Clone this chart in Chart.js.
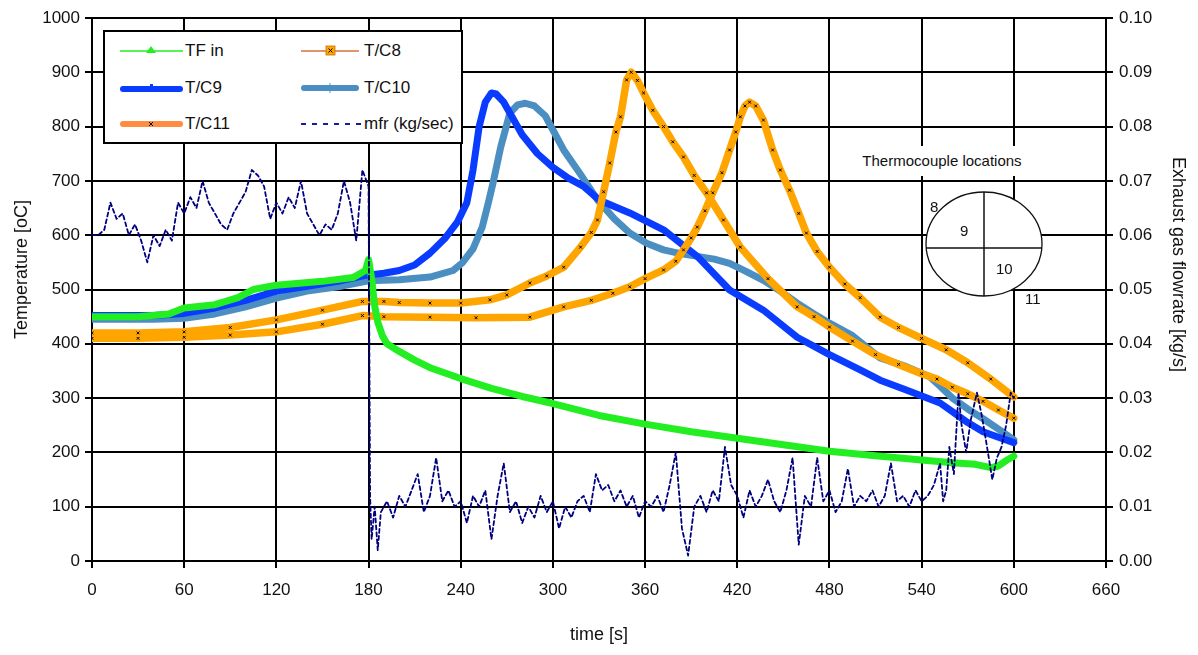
<!DOCTYPE html>
<html>
<head>
<meta charset="utf-8">
<script src="https://cdn.jsdelivr.net/npm/chart.js@4.4.1/dist/chart.umd.min.js"></script>
<style>
	body { margin: 0; background: #fff; }
	#wrap { position: relative; width: 1198px; height: 655px; font-family: "Liberation Sans", Arial, sans-serif; color: #111; }
	#legend { position: absolute; left: 103px; top: 30px; width: 356px; height: 110px; border: 2px solid #000; background: #fff; }
	.item { position: absolute; height: 20px; font-size: 17px; line-height: 20px; white-space: nowrap; }
	.item svg { position: absolute; left: 0; top: 0; }
	.item span { position: absolute; top: 0; }
	#tcTitle { position: absolute; left: 856px; top: 146px; width: 172px; height: 30px; background: #fff; font-size: 15px; line-height: 30px; text-align: center; }
	.num { position: absolute; font-size: 15px; line-height: 16px; }
	#diagram { position: absolute; left: 0; top: 0; }
</style>
</head>
<body>
<div id="wrap">
	<canvas id="chart" width="1198" height="655"></canvas>
	<div id="legend"></div>
	<div id="tcTitle">Thermocouple locations</div>
	<svg id="diagram" width="1198" height="655">
		<ellipse cx="984" cy="244" rx="58" ry="52" fill="#fff" stroke="#111" stroke-width="1.3"/>
		<line x1="984" y1="192" x2="984" y2="296" stroke="#111" stroke-width="1.5"/>
		<line x1="926" y1="248" x2="1042" y2="248" stroke="#111" stroke-width="1.5"/>
	</svg>
	<div class="num" style="left:930px; top:199px;">8</div>
	<div class="num" style="left:960px; top:223px;">9</div>
	<div class="num" style="left:996px; top:261px;">10</div>
	<div class="num" style="left:1025px; top:291px;">11</div>
</div>
<script>
// axis ticks
const timeTicks = [0, 60, 120, 180, 240, 300, 360, 420, 480, 540, 600, 660]
const tempTicks = [0, 100, 200, 300, 400, 500, 600, 700, 800, 900, 1000]
const rateTicks = [0, 0.01, 0.02, 0.03, 0.04, 0.05, 0.06, 0.07, 0.08, 0.09, 0.10]

// TF in
const tfTime = [0, 30, 50, 60, 80, 95, 105, 120, 150, 170, 178, 180, 182, 184, 186, 189, 192, 200, 210, 220, 240, 260, 280, 300, 330, 360, 390, 420, 450, 480, 510, 540, 560, 575, 585, 590, 595, 600]
const tfTemp = [450, 450, 455, 466, 472, 485, 500, 508, 515, 522, 535, 555, 520, 470, 440, 415, 400, 386, 370, 356, 336, 318, 303, 290, 268, 252, 238, 226, 214, 202, 194, 186, 181, 178, 172, 175, 185, 193]

// T/C8
const tc8Time = [0, 30, 60, 90, 120, 150, 176, 190, 200, 220, 240, 259, 270, 285, 296, 307, 318, 325, 329, 333, 337, 341, 344, 348, 351, 355, 359, 365, 372, 378, 385, 392, 400, 411, 422, 440, 459, 470, 480, 495, 510, 525, 540, 550, 560, 570, 580, 590, 600]
const tc8Temp = [420, 420, 422, 430, 444, 462, 478, 478, 476, 475, 475, 481, 490, 512, 525, 541, 578, 605, 628, 680, 733, 790, 818, 886, 900, 885, 862, 830, 800, 772, 744, 710, 678, 628, 578, 520, 468, 450, 431, 405, 380, 362, 345, 335, 320, 308, 294, 278, 263]

// T/C9
const tc9Time = [0, 40, 60, 80, 100, 120, 140, 160, 178, 190, 200, 210, 220, 230, 238, 244, 248, 252, 256, 260, 263, 268, 274, 280, 290, 300, 310, 320, 330, 350, 372, 394, 415, 437, 459, 480, 500, 513, 530, 552, 560, 570, 580, 590, 600]
const tc9Temp = [452, 452, 456, 466, 480, 497, 506, 515, 526, 530, 535, 545, 567, 595, 625, 660, 720, 800, 845, 862, 860, 845, 815, 785, 750, 725, 705, 690, 665, 641, 610, 561, 499, 462, 412, 380, 352, 333, 315, 291, 275, 255, 238, 228, 218]

// T/C10
const tc10Time = [0, 40, 60, 80, 100, 120, 140, 160, 180, 200, 220, 235, 241, 248, 254, 258, 261, 266, 272, 277, 282, 288, 295, 307, 318, 329, 340, 350, 361, 372, 383, 394, 405, 415, 426, 437, 448, 459, 470, 480, 495, 513, 530, 545, 552, 560, 570, 580, 590, 600]
const tc10Temp = [445, 445, 447, 455, 468, 484, 497, 505, 516, 518, 523, 535, 549, 575, 615, 660, 696, 762, 825, 840, 843, 838, 820, 757, 712, 665, 630, 604, 585, 573, 566, 561, 556, 548, 533, 517, 497, 475, 455, 438, 415, 374, 358, 340, 322, 300, 280, 262, 243, 223]

// T/C11
const tc11Time = [0, 30, 60, 90, 120, 150, 176, 190, 220, 250, 285, 307, 325, 339, 350, 360, 372, 380, 385, 390, 394, 399, 404, 410, 415, 419, 422, 425, 428, 432, 437, 443, 448, 454, 460, 465, 472, 480, 490, 500, 513, 525, 540, 556, 570, 585, 600]
const tc11Temp = [410, 410, 412, 416, 422, 436, 452, 450, 449, 448, 449, 468, 480, 493, 505, 520, 536, 552, 573, 595, 615, 645, 678, 715, 757, 790, 818, 838, 845, 838, 812, 757, 720, 683, 640, 604, 570, 541, 510, 485, 449, 430, 410, 389, 365, 335, 302]

// mfr (kg/sec), right axis
const mfrTime = [0, 4, 8, 12, 16, 20, 24, 28, 32, 36, 40, 44, 48, 52, 56, 60, 64, 68, 72, 76, 80, 84, 88, 92, 96, 100, 104, 108, 112, 116, 120, 124, 128, 132, 136, 140, 144, 148, 152, 156, 160, 164, 168, 172, 176, 180,
	181, 182, 184, 186, 188, 192, 196, 200, 204, 208, 212, 216, 220, 224, 228, 232, 236, 240, 244, 248, 252, 256, 260, 264, 268, 272, 276, 280, 284, 288, 292, 296, 300,
	304, 308, 312, 316, 320, 324, 328, 332, 336, 340, 344, 348, 352, 356, 360, 364, 368, 372, 376, 380, 384, 388, 392, 396, 400, 404, 408, 412, 416, 420,
	424, 428, 432, 436, 440, 444, 448, 452, 456, 460, 464, 468, 472, 476, 480, 484, 488, 492, 496, 500, 504, 508, 512, 516, 520, 524, 528, 532, 536, 540,
	544, 548, 552, 554, 556, 558, 561, 564, 566, 569, 572, 576, 579, 582, 586, 589, 592, 595, 598, 600]
const mfrRate = [0.060, 0.060, 0.061, 0.066, 0.063, 0.064, 0.060, 0.062, 0.059, 0.055, 0.060, 0.058, 0.061, 0.059, 0.066, 0.064, 0.067, 0.065, 0.070, 0.066, 0.064, 0.062, 0.061, 0.064, 0.066, 0.068, 0.072, 0.071, 0.069, 0.063, 0.066, 0.064, 0.067, 0.065, 0.070, 0.064, 0.062, 0.060, 0.062, 0.061, 0.064, 0.070, 0.066, 0.059, 0.072, 0.069,
	0.012, 0.004, 0.010, 0.002, 0.009, 0.011, 0.008, 0.012, 0.010, 0.013, 0.016, 0.009, 0.012, 0.019, 0.011, 0.013, 0.010, 0.011, 0.007, 0.012, 0.010, 0.013, 0.004, 0.012, 0.018, 0.009, 0.011, 0.007, 0.010, 0.008, 0.012, 0.009, 0.011,
	0.006, 0.010, 0.008, 0.011, 0.012, 0.009, 0.016, 0.013, 0.014, 0.011, 0.013, 0.010, 0.012, 0.008, 0.011, 0.010, 0.012, 0.009, 0.014, 0.020, 0.006, 0.001, 0.010, 0.012, 0.009, 0.013, 0.011, 0.021, 0.014, 0.012,
	0.008, 0.013, 0.010, 0.012, 0.015, 0.011, 0.009, 0.013, 0.019, 0.003, 0.012, 0.010, 0.019, 0.011, 0.013, 0.009, 0.011, 0.017, 0.010, 0.012, 0.011, 0.013, 0.010, 0.012, 0.018, 0.011, 0.012, 0.010, 0.013, 0.011,
	0.012, 0.014, 0.018, 0.011, 0.013, 0.021, 0.016, 0.031, 0.025, 0.020, 0.026, 0.031, 0.027, 0.022, 0.015, 0.019, 0.021, 0.025, 0.031, 0.030]

const legendItems = [
	{label: 'TF in', row: 0, col: 0, sample: '<line x1="0" y1="10" x2="63" y2="10" stroke="#22ee22" stroke-width="1.5"/><polygon points="31,5 36,12 26,12" fill="#22ee22"/>'},
	{label: 'T/C8', row: 0, col: 1, sample: '<line x1="0" y1="10" x2="58" y2="10" stroke="#d9703a" stroke-width="1.5"/><rect x="25" y="5" width="9" height="9" fill="#ffa500" stroke="#c07000" stroke-width="0.8"/><path d="M27.5 7.5 L31.5 11.5 M31.5 7.5 L27.5 11.5" stroke="#000" stroke-width="1"/>'},
	{label: 'T/C9', row: 1, col: 0, sample: '<line x1="3" y1="11" x2="60" y2="11" stroke="#0a3cff" stroke-width="6" stroke-linecap="round"/><rect x="30" y="6" width="3" height="4" fill="#0a3cff"/>'},
	{label: 'T/C10', row: 1, col: 1, sample: '<line x1="3" y1="10" x2="55" y2="10" stroke="#4b8fc2" stroke-width="6" stroke-linecap="round"/><line x1="29" y1="5" x2="29" y2="15" stroke="#4b8fc2" stroke-width="1"/>'},
	{label: 'T/C11', row: 2, col: 0, sample: '<line x1="3" y1="10" x2="60" y2="10" stroke="#ff8c40" stroke-width="6" stroke-linecap="round"/><path d="M29 8 L33 12 M33 8 L29 12" stroke="#000" stroke-width="1"/>'},
	{label: 'mfr (kg/sec)', row: 2, col: 1, sample: '<line x1="0" y1="10" x2="60" y2="10" stroke="#1a1a9a" stroke-width="2" stroke-dasharray="5,6"/>'},
]

function buildLegend () {
	var box = document.getElementById('legend')
	legendItems.forEach(function (it) {
		var div = document.createElement('div')
		div.className = 'item'
		div.style.left = (it.col ? 196 : 15) + 'px'
		div.style.top = (9 + it.row * 36.5) + 'px'
		div.innerHTML = '<svg width="64" height="20">' + it.sample + '</svg><span style="left:' + (it.col ? 63 : 65) + 'px">' + it.label + '</span>'
		box.appendChild(div)
	})
}

function pts (xs, ys) {
	return xs.map((x, i) => ({x: x, y: ys[i]}))
}

const tickFont = {family: '"Liberation Sans", Arial, sans-serif', size: 17}
const titleFont = {family: '"Liberation Sans", Arial, sans-serif', size: 18}
const gridColor = '#000'

buildLegend()

new Chart('chart', {
	type: 'line',
	data: {
		datasets: [
			{
				label: 'mfr (kg/sec)', data: pts(mfrTime, mfrRate), yAxisID: 'y2', order: 1,
				borderColor: '#00007f', borderWidth: 1.8, borderDash: [4, 3], pointRadius: 0,
			},
			{
				label: 'TF in', data: pts(tfTime, tfTemp), yAxisID: 'y', order: 2,
				borderColor: '#22ee22', borderWidth: 7, pointRadius: 0,
			},
			{
				label: 'T/C8', data: pts(tc8Time, tc8Temp), yAxisID: 'y', order: 3,
				borderColor: '#ffa500', borderWidth: 7.5, pointRadius: 2, pointStyle: 'crossRot',
				pointBorderColor: '#000', pointBorderWidth: 1,
			},
			{
				label: 'T/C11', data: pts(tc11Time, tc11Temp), yAxisID: 'y', order: 4,
				borderColor: '#ffa500', borderWidth: 7.5, pointRadius: 2, pointStyle: 'crossRot',
				pointBorderColor: '#000', pointBorderWidth: 1,
			},
			{
				label: 'T/C9', data: pts(tc9Time, tc9Temp), yAxisID: 'y', order: 5,
				borderColor: '#0a3cff', borderWidth: 7, pointRadius: 0,
			},
			{
				label: 'T/C10', data: pts(tc10Time, tc10Temp), yAxisID: 'y', order: 6,
				borderColor: '#4b8fc2', borderWidth: 7, pointRadius: 0,
			},
		],
	},
	options: {
		responsive: false,
		animation: false,
		layout: {padding: {top: 18, left: 0, right: 0, bottom: 0}},
		elements: {line: {tension: 0, borderJoinStyle: 'round', borderCapStyle: 'round'}},
		plugins: {legend: {display: false}, tooltip: {enabled: false}},
		scales: {
			x: {
				type: 'linear', min: 0, max: 660,
				afterBuildTicks: (s) => { s.ticks = timeTicks.map(v => ({value: v})) },
				afterFit: (s) => { s.height = 94 },
				ticks: {font: tickFont, color: '#111', padding: 12, maxRotation: 0, callback: (v) => String(v)},
				grid: {color: gridColor, lineWidth: 2, tickLength: 7, tickColor: gridColor},
				border: {color: '#000', width: 2},
				title: {display: true, text: 'time [s]', font: titleFont, color: '#111', padding: {top: 0, bottom: 9}},
			},
			y: {
				type: 'linear', position: 'left', min: 0, max: 1000,
				afterBuildTicks: (s) => { s.ticks = tempTicks.map(v => ({value: v})) },
				afterFit: (s) => { s.width = 92 },
				ticks: {font: tickFont, color: '#111', padding: 5, callback: (v) => String(v)},
				grid: {color: gridColor, lineWidth: 2, tickLength: 7, tickColor: gridColor},
				border: {color: '#000', width: 2},
				// leading spaces nudge the rotated title up, as in the source
				title: {display: true, text: '        Temperature [oC]', font: titleFont, color: '#111', padding: {top: 11, bottom: 0}},
			},
			y2: {
				type: 'linear', position: 'right', min: 0, max: 0.1,
				afterBuildTicks: (s) => { s.ticks = rateTicks.map(v => ({value: v})) },
				afterFit: (s) => { s.width = 92 },
				ticks: {font: tickFont, color: '#111', padding: 6, callback: (v) => v.toFixed(2)},
				grid: {drawOnChartArea: false, color: gridColor, lineWidth: 2, tickLength: 7, tickColor: gridColor},
				border: {color: '#000', width: 2},
				title: {display: true, text: 'Exhaust gas flowrate [kg/s]          ', font: titleFont, color: '#111', padding: {top: 9, bottom: 0}},
			},
		},
	},
})
</script>
</body>
</html>
